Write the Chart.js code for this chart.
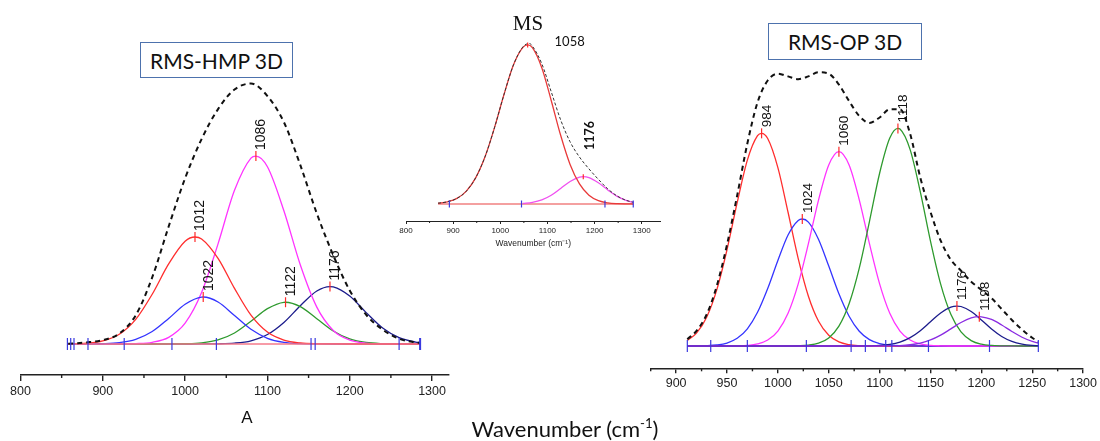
<!DOCTYPE html>
<html>
<head>
<meta charset="utf-8">
<script src="https://cdn.jsdelivr.net/npm/chart.js@4.4.1/dist/chart.umd.min.js"></script>
<style>
  body { margin: 0; background: #fff; width: 1100px; height: 441px; position: relative; overflow: hidden; }
  canvas { position: absolute; top: 0; }
  .box { position: absolute; box-sizing: border-box; border: 1.5px solid #4d72ad; font-family: Lato, sans-serif; font-size: 21px; color: #111;
         display: flex; align-items: center; justify-content: center; background: #fff; }
  .txt { position: absolute; transform: translate(-50%, -50%); white-space: nowrap; color: #111; }
  sup { font-size: 0.6em; }
</style>
</head>
<body>
<canvas id="hmp" width="460" height="441" style="left:0"></canvas>
<canvas id="op" width="480" height="441" style="left:620px"></canvas>
<canvas id="ms" width="275" height="260" style="left:395px"></canvas>
<div class="box" style="left:140px;top:42px;width:153px;height:36px">RMS-HMP 3D</div>
<div class="box" style="left:768px;top:23px;width:154px;height:37px">RMS-OP 3D</div>
<div class="txt" style="left:528px;top:23px;font-family:'Liberation Serif',serif;font-size:21px">MS</div>
<div class="txt" style="left:247px;top:418px;font-family:'Liberation Sans',sans-serif;font-size:17px">A</div>
<div class="txt" style="left:565px;top:428px;font-family:Lato,sans-serif;font-size:22px">Wavenumber (cm<sup>-1</sup>)</div>
<script>
// ---- RMS-HMP 3D (left panel) ----
const hmpX = [858, 880, 900, 920, 940, 960, 980, 1000, 1020, 1040, 1060, 1080, 1100, 1120, 1140, 1160, 1180, 1200, 1220, 1240, 1260, 1280, 1286];
const hmpRed = [0.05, 0.29, 1.17, 3.72, 9.43, 19.05, 30.67, 39.36, 40.26, 32.83, 21.33, 11.06, 4.56, 1.5, 0.39, 0.08, 0.02, 0, 0, 0, 0, 0, 0];
const hmpMagenta = [0, 0, 0, 0.02, 0.13, 0.64, 2.55, 7.98, 19.71, 38.37, 58.88, 71.23, 67.92, 51.06, 30.25, 14.13, 5.2, 1.51, 0.34, 0.06, 0.01, 0, 0];
const hmpBlue = [0, 0.02, 0.1, 0.49, 1.76, 4.76, 9.77, 15.22, 17.98, 16.09, 10.92, 5.62, 2.19, 0.65, 0.15, 0.03, 0, 0, 0, 0, 0, 0, 0];
const hmpGreen = [0, 0, 0, 0, 0, 0, 0.01, 0.09, 0.44, 1.56, 4.23, 8.69, 13.53, 15.98, 14.3, 9.7, 4.99, 1.95, 0.58, 0.13, 0.02, 0, 0];
const hmpNavy = [0, 0, 0, 0, 0, 0, 0, 0, 0.01, 0.07, 0.33, 1.23, 3.62, 8.26, 14.67, 20.31, 21.89, 18.38, 12.01, 6.12, 2.43, 0.75, 0.5];
const hmpEnvelope = [0.1, 0.6, 1.5, 4, 11, 25.5, 45, 63.5, 78.5, 90, 97.5, 99.8, 95, 85, 68.5, 50, 34, 20.5, 11.2, 5.5, 2, 0.6, 0.4];
const hmpPeakX = [1012, 1022, 1086, 1122, 1176];   // red, blue, magenta, green, navy
const hmpPeakY = [41, 18, 72, 16, 22];
const hmpMarks = [857, 861, 865, 882, 926, 984, 1038, 1153, 1158, 1260, 1285, 1286];

// ---- RMS-OP 3D (right panel) ----
const opX = [911, 920, 930, 940, 950, 960, 970, 980, 990, 1000, 1010, 1020, 1030, 1040, 1050, 1060, 1070, 1080, 1090, 1100,
             1110, 1120, 1130, 1140, 1150, 1160, 1170, 1180, 1190, 1200, 1210, 1220, 1230, 1240, 1250, 1256];
const opRed = [2, 4.69, 10.52, 20.6, 35.17, 52.35, 67.93, 76.85, 75.8, 65.19, 48.87, 31.94, 18.2, 9.04, 3.92, 1.48, 0.49, 0.14, 0.03, 0,
               0, 0, 0, 0, 0, 0, 0, 0, 0, 0, 0, 0, 0, 0, 0, 0];
const opBlue = [0, 0.03, 0.11, 0.37, 1.08, 2.8, 6.28, 12.3, 21, 31.26, 40.56, 45.89, 45.27, 38.93, 29.19, 19.07, 10.87, 5.4, 2.34, 0.88,
                0.29, 0.08, 0.02, 0, 0, 0, 0, 0, 0, 0, 0, 0, 0, 0, 0, 0];
const opMagenta = [0, 0, 0, 0, 0.01, 0.06, 0.22, 0.75, 2.17, 5.47, 11.96, 22.72, 37.4, 53.4, 66.12, 71, 66.12, 53.4, 37.4, 22.72,
                   11.96, 5.47, 2.17, 0.75, 0.22, 0.06, 0, 0, 0, 0, 0, 0, 0, 0, 0, 0];
const opGreen = [0, 0, 0, 0, 0, 0, 0, 0, 0, 0, 0, 0.09, 0.32, 1.04, 2.95, 7.24, 15.41, 28.43, 45.48, 63.11,
                 75.96, 79.28, 71.75, 56.32, 38.33, 22.63, 11.58, 5.14, 1.98, 0.66, 0.19, 0.05, 0.01, 0, 0, 0];
const opNavy = [0, 0, 0, 0, 0, 0, 0, 0, 0, 0, 0, 0, 0, 0, 0, 0, 0, 0, 0.06, 0.2,
                0.58, 1.44, 3.05, 5.6, 8.86, 12.08, 14.22, 14.43, 12.63, 9.53, 6.21, 3.49, 1.69, 0.71, 0.25, 0.13];
const opPurple = [0, 0, 0, 0, 0, 0, 0, 0, 0, 0, 0, 0, 0, 0, 0, 0, 0, 0, 0, 0,
                  0.05, 0.16, 0.45, 1.06, 2.2, 3.97, 6.25, 8.57, 10.24, 10.67, 9.69, 7.68, 5.3, 3.19, 1.67, 1.06];
const opEnvelope = [2.5, 5.5, 11.5, 22, 37, 55, 74, 89, 97, 99.5, 98.5, 97.5, 98.5, 100, 99.5, 95.5, 89.5, 84, 81.5, 83.5,
                    86.5, 86.5, 77.5, 61.5, 49, 38.5, 31.5, 27.5, 23.5, 20.5, 17.5, 13.5, 9.5, 6, 3, 1.6];
const opPeakX = [984, 1024, 1060, 1118, 1176, 1198];  // red, blue, magenta, green, navy, purple
const opPeakY = [77.7, 46.4, 71, 79.5, 14.6, 10.7];
const opMarks = [911, 934, 970, 1028, 1072, 1086, 1106, 1112, 1148, 1208, 1256];

// ---- MS (inset) ----
const msX = [868, 888, 908, 928, 948, 968, 988, 1008, 1028, 1048, 1068, 1088, 1108, 1128, 1148, 1168, 1188, 1208, 1228, 1248, 1268, 1282];
const msRed = [0.5, 1.4, 3.5, 8.1, 16.6, 30, 48.3, 69, 87.5, 98.5, 98.3, 85.7, 65.1, 43.2, 24.9, 12.6, 5.5, 2.1, 0.7, 0.2, 0.05, 0.01];
const msMagenta = [null, null, null, null, null, null, null, null, null, 0.3, 0.96, 2.54, 5.49, 9.74, 14.17, 16.93, 16.6, 13.36, 8.82, 4.78, 2.13, 1.07];
const msEnvelope = [0.5, 1.4, 3.5, 8.1, 16.6, 30, 48.3, 69, 87.5, 98.8, 99.3, 88.2, 70.6, 52.9, 39.1, 29.5, 22.1, 15.5, 9.5, 5, 2.2, 1.1];
const msEnvTop = [1062, 100.9];
const msPeakX = [1058, 1176];
const msPeakY = [100, 17.2];
const msMarks = [892, 1045, 1222, 1282];

function points(xs, ys, px, py) {
  const pts = xs.map((x, i) => ({ x, y: ys[i] }));
  if (px !== undefined) {
    const k = pts.findIndex(p => p.x >= px);
    if (pts[k].x === px) pts[k].y = py; else pts.splice(k, 0, { x: px, y: py });
  }
  return pts;
}

function curve(pts, color, extra) {
  return Object.assign({ data: pts, borderColor: color, borderWidth: 1.3, pointRadius: 0, fill: false,
    cubicInterpolationMode: 'monotone', spanGaps: false }, extra);
}

const decoPlugin = {
  id: 'deco',
  afterDraw(chart, args, o) {
    const { ctx } = chart;
    const x = chart.scales.x, y = chart.scales.y;
    ctx.save();
    // minor ticks
    ctx.strokeStyle = '#222';
    ctx.lineWidth = o.axisWidth;
    for (let v = o.minorFrom; v <= x.max; v += o.minorStep * 2) {
      const px = x.getPixelForValue(v);
      ctx.beginPath(); ctx.moveTo(px, x.top); ctx.lineTo(px, x.top + o.minorLen); ctx.stroke();
    }
    // fit range markers on the baseline
    const y0 = y.getPixelForValue(0);
    ctx.strokeStyle = '#3a3ae0';
    ctx.lineWidth = 1.2;
    o.marks.forEach(v => {
      const px = x.getPixelForValue(v);
      ctx.beginPath(); ctx.moveTo(px, y0 - o.markLen); ctx.lineTo(px, y0 + o.markLen); ctx.stroke();
    });
    // peak ticks and labels
    o.peaksX.forEach((v, i) => {
      const px = x.getPixelForValue(v), py = y.getPixelForValue(o.peaksY[i]);
      ctx.strokeStyle = '#ff2a2a';
      ctx.beginPath(); ctx.moveTo(px, py - o.markLen + 1); ctx.lineTo(px, py + o.markLen - 1); ctx.stroke();
      const lab = o.labels[i] || o.labels[0];
      ctx.save();
      ctx.fillStyle = '#111';
      ctx.font = lab.font;
      ctx.translate(px + lab.dx, py - lab.gap);
      ctx.textBaseline = 'middle';
      if (lab.rotate) { ctx.rotate(-Math.PI / 2); ctx.textAlign = 'left'; } else { ctx.textAlign = 'center'; }
      ctx.fillText(String(v), 0, 0);
      ctx.restore();
    });
    ctx.restore();
  }
};

function makeChart(id, c) {
  new Chart(document.getElementById(id), {
    type: 'line',
    data: { datasets: c.datasets },
    options: {
      responsive: false, animation: false, devicePixelRatio: 1,
      layout: { padding: c.padding },
      plugins: { legend: { display: false }, tooltip: { enabled: false }, deco: c.deco },
      scales: {
        x: {
          type: 'linear', min: c.xMin, max: c.xMax,
          afterFit: s => { s.height = c.axisHeight; },
          ticks: { stepSize: c.step, includeBounds: false, autoSkip: false, maxRotation: 0, padding: c.tickPad,
                   color: '#222', font: { family: 'Liberation Sans', size: c.tickSize }, callback: v => String(v) },
          grid: { drawOnChartArea: false, drawTicks: true, tickLength: c.tickLen, color: '#222', lineWidth: c.axisWidth },
          border: { display: true, color: '#222', width: c.axisWidth },
          title: c.title || { display: false }
        },
        y: { display: false, min: c.yMin, max: c.yMax }
      }
    },
    plugins: [decoPlugin]
  });
}

const rotLabel = size => ({ font: size + 'px "Liberation Sans"', dx: 5.5, gap: 6, rotate: true });
const dashed = { borderColor: '#111', borderWidth: 2, borderDash: [5, 4] };

makeChart('hmp', {
  datasets: [
    curve(points(hmpX, hmpEnvelope), '#111', dashed),
    curve([{ x: 858, y: 0 }, { x: 1286, y: 0 }], '#f47a8a'),
    curve(points(hmpX, hmpRed, hmpPeakX[0], hmpPeakY[0]), '#ff2e2e'),
    curve(points(hmpX, hmpBlue, hmpPeakX[1], hmpPeakY[1]), '#3434ff'),
    curve(points(hmpX, hmpMagenta, hmpPeakX[2], hmpPeakY[2]), '#ff33ff'),
    curve(points(hmpX, hmpGreen, hmpPeakX[3], hmpPeakY[3]), '#2e9a2e'),
    curve(points(hmpX, hmpNavy, hmpPeakX[4], hmpPeakY[4]), '#1c1c8c')
  ],
  padding: { left: 20.5, right: 11.5, top: 60, bottom: 0 },
  xMin: 800, xMax: 1320, step: 100, axisHeight: 66, tickPad: 3, tickSize: 12.5, tickLen: 6, axisWidth: 1.4,
  yMin: -11.88, yMax: 108.81,
  deco: { minorFrom: 850, minorStep: 50, minorLen: 3, axisWidth: 1.4, marks: hmpMarks, markLen: 6,
          peaksX: hmpPeakX, peaksY: hmpPeakY, labels: [rotLabel(14)] }
});

makeChart('op', {
  datasets: [
    curve(points(opX, opEnvelope), '#111', dashed),
    curve(points(opX, opPurple, opPeakX[5], opPeakY[5]), '#8a2be2'),
    curve(points(opX, opNavy, opPeakX[4], opPeakY[4]), '#1c1c8c'),
    curve(points(opX, opGreen, opPeakX[3], opPeakY[3]), '#2e9a2e'),
    curve(points(opX, opMagenta, opPeakX[2], opPeakY[2]), '#ff33ff'),
    curve(points(opX, opBlue, opPeakX[1], opPeakY[1]), '#3434ff'),
    curve(points(opX, opRed, opPeakX[0], opPeakY[0]), '#ff2e2e'),
    curve([{ x: 911, y: 0 }, { x: 1256, y: 0 }], '#f47a8a')
  ],
  padding: { left: 30.7, right: 16.6, top: 40, bottom: 0 },
  xMin: 875, xMax: 1300, step: 50, axisHeight: 72.7, tickPad: 3, tickSize: 12.5, tickLen: 5, axisWidth: 1.4,
  yMin: -8.15, yMax: 111.8,
  deco: { minorFrom: 875, minorStep: 25, minorLen: 3, axisWidth: 1.4, marks: opMarks, markLen: 6,
          peaksX: opPeakX, peaksY: opPeakY, labels: [rotLabel(13.5)] }
});

makeChart('ms', {
  datasets: [
    curve(points(msX, msEnvelope, msEnvTop[0], msEnvTop[1]), '#333', { borderWidth: 1, borderDash: [3, 2] }),
    curve(points(msX, msRed, msPeakX[0], msPeakY[0]), '#e83a3a'),
    curve(points(msX, msMagenta, msPeakX[1], msPeakY[1]), '#f050f0'),
    curve([{ x: 868, y: 0 }, { x: 1282, y: 0 }], '#f08080')
  ],
  padding: { left: 11, right: 9.4, top: 30, bottom: 0 },
  xMin: 800, xMax: 1340, step: 100, axisHeight: 39, tickPad: 2, tickSize: 8, tickLen: 3, axisWidth: 1,
  yMin: -10.69, yMax: 109.4,
  title: { display: true, text: 'Wavenumber (cm⁻¹)', color: '#222', font: { family: 'Liberation Sans', size: 8.5 }, padding: { top: 0, bottom: 10.9 } },
  deco: { minorFrom: 850, minorStep: 50, minorLen: 2, axisWidth: 1, marks: msMarks, markLen: 3.5,
          peaksX: msPeakX, peaksY: msPeakY,
          labels: [{ font: '13px Lato', dx: 42, gap: 3, rotate: false },
                   { font: 'bold 12.5px Lato', dx: 6.7, gap: 26.7, rotate: true }] }
});
</script>
</body>
</html>
